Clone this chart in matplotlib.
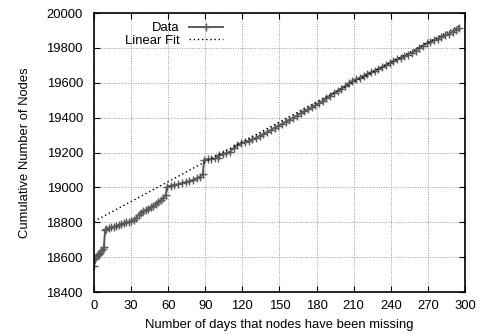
import numpy as np
import matplotlib
matplotlib.use('Agg')
from matplotlib import pyplot as plt

# 数据
days = [0, 1, 2, 3, 4, 5, 6, 7, 8,
        9, 10, 12, 14, 16, 18, 20, 22, 24, 26, 28, 30, 32, 34, 36, 38, 40,
        42, 44, 46, 48, 50, 52, 54, 56, 58,
        59, 62, 65, 68, 71, 74, 77, 80, 83, 86, 88,
        89, 92, 95, 98, 100, 101, 104, 107, 110, 113, 116, 119, 122, 125,
        128, 131, 134, 137, 140, 143, 146, 149, 152, 155, 158, 161, 164,
        167, 170, 173, 176, 179, 182, 185, 188, 191, 194, 197, 200, 203,
        206, 209, 212, 215, 218, 221, 224, 227, 230, 233, 236, 239, 242,
        245, 248, 251, 254, 257, 260, 263, 266, 269, 272, 275, 278, 281,
        284, 287, 290, 293, 295]
nodes = [18550, 18590, 18600, 18610, 18620, 18625, 18635, 18645, 18660,
         18755, 18760, 18765, 18770, 18775, 18780, 18785, 18790, 18795, 18800,
         18802, 18805, 18815, 18825, 18840, 18852, 18862, 18870, 18878, 18886,
         18895, 18905, 18915, 18925, 18938, 18955,
         19005, 19010, 19014, 19018, 19024, 19030, 19036, 19043, 19052, 19062,
         19075,
         19158, 19162, 19164, 19166, 19170, 19188, 19192, 19196, 19205, 19225,
         19242, 19252, 19260, 19268, 19276, 19285, 19296, 19306, 19318, 19330,
         19342, 19354, 19365, 19377, 19388, 19400, 19412, 19424, 19436, 19448,
         19460, 19470, 19482, 19496, 19510, 19526, 19540, 19553, 19566, 19580,
         19598, 19610, 19620, 19630, 19640, 19650, 19660, 19670, 19680, 19690,
         19702, 19712, 19724, 19735, 19744, 19752, 19762, 19772, 19785, 19798,
         19812, 19826, 19836, 19844, 19853, 19862, 19872, 19882, 19893, 19904,
         19912]

# 线性拟合参数
fit_intercept = 18805
fit_slope = 3.8
fit_range = [0, 295]

xticks = list(range(0, 301, 30))
yticks = list(range(18400, 20001, 200))

plt.rcParams['font.family'] = ['Liberation Sans', 'DejaVu Sans']
plt.rcParams['font.size'] = 9.4

fig = plt.figure(figsize=(4.83, 3.34), dpi=100)
ax = fig.add_axes([0.1946, 0.1257, 0.7681, 0.8353])

ax.plot(days, nodes, color='#5a5a5a', lw=1.4, marker='+', ms=6, mew=1.0,
        label='Data')
fit_x = np.array(fit_range)
ax.plot(fit_x, fit_intercept + fit_slope * fit_x, color='black', lw=1,
        linestyle=(0, (1, 2)), label='Linear Fit')

ax.set_xlim(0, 300)
ax.set_ylim(18400, 20000)
ax.set_xticks(xticks)
ax.set_yticks(yticks)
ax.grid(True, color='#999999', linestyle=(0, (1, 1.5)), lw=0.7)
ax.tick_params(direction='in', length=4, top=True, right=True, width=0.8)
ax.tick_params(axis='y', pad=8)
ax.tick_params(axis='x', pad=6)
for s in ax.spines.values():
    s.set_linewidth(1.2)

ax.set_xlabel('Number of days that nodes have been missing', labelpad=5)
ax.set_ylabel('Cumulative Number of Nodes', labelpad=11)

ax.legend(loc='upper right', bbox_to_anchor=(0.375, 1.005), frameon=False,
          markerfirst=False, handlelength=2.6, numpoints=1, borderpad=0.3,
          labelspacing=0.05, handletextpad=0.7)

fig.savefig('out.png', dpi=100)
